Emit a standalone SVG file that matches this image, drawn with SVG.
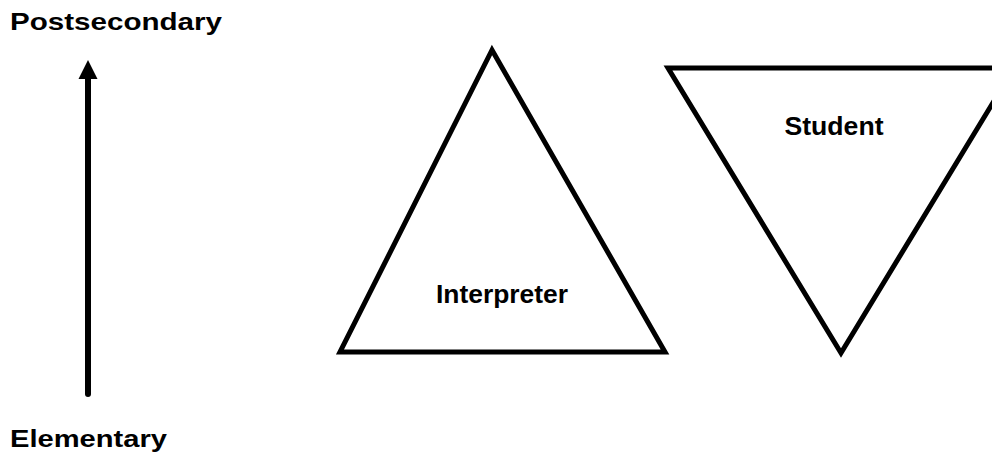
<svg xmlns="http://www.w3.org/2000/svg" width="992" height="458" viewBox="0 0 992 458">
<style>
.lbl{font-family:"Liberation Sans",Arial,sans-serif;font-weight:bold;fill:#000}
.tri{fill:none;stroke:#000;stroke-width:5;stroke-linejoin:miter}
</style>
<rect width="992" height="458" fill="#fff"/>
<g id="axis-top"><text class="lbl" x="10" y="30" font-size="24" textLength="212" lengthAdjust="spacingAndGlyphs">Postsecondary</text></g>
<g id="axis-bottom"><text class="lbl" x="10" y="447" font-size="24" textLength="157" lengthAdjust="spacingAndGlyphs">Elementary</text></g>
<g id="connectors">
<line x1="88" y1="394" x2="88" y2="76" stroke="#000" stroke-width="6" stroke-linecap="round"/>
<polygon points="88,60 78.5,79 97.5,79" fill="#000"/>
</g>
<g id="interpreter">
<polygon class="tri" points="492,50 340,352 665,352"/>
<text class="lbl" x="502" y="303" font-size="25" text-anchor="middle" textLength="132" lengthAdjust="spacingAndGlyphs">Interpreter</text>
</g>
<g id="student">
<polygon class="tri" points="668,68 1014,68 841,353"/>
<text class="lbl" x="834" y="135" font-size="25" text-anchor="middle" textLength="99" lengthAdjust="spacingAndGlyphs">Student</text>
</g>
</svg>
